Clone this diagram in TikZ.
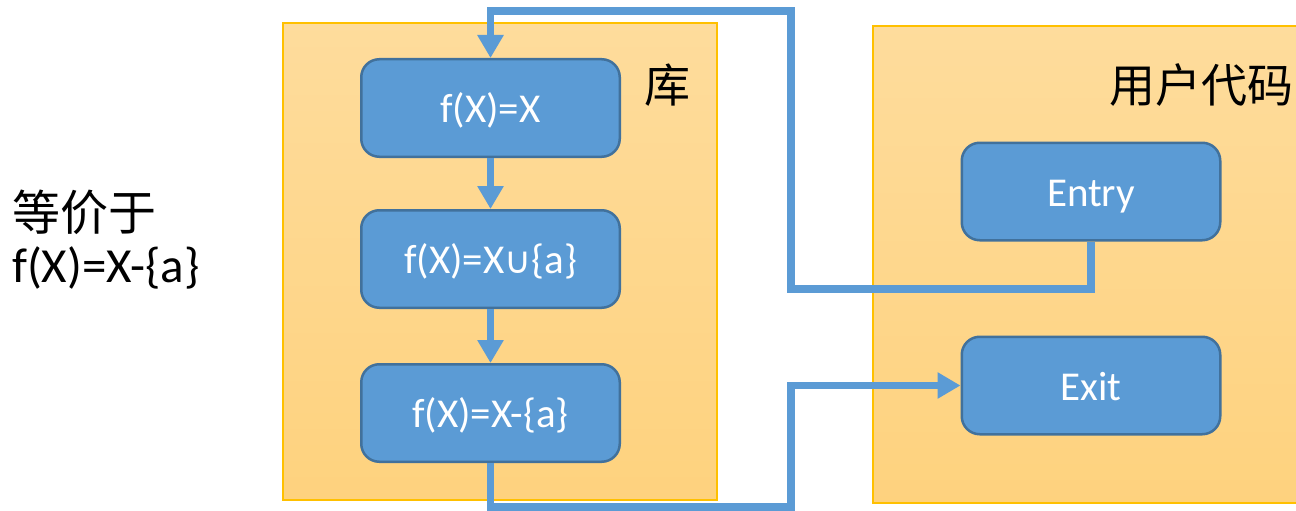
\documentclass[tikz,border=0pt]{standalone}
\usepackage{fontspec}
\setmainfont{Carlito}
\newfontfamily\cjk{Noto Sans CJK SC}
\newfontfamily\dvs{DejaVu Sans}
\usetikzlibrary{arrows.meta}
\definecolor{boxblue}{HTML}{5B9BD5}
\definecolor{boxedge}{HTML}{41719C}
\definecolor{contop}{HTML}{FEDC9C}
\definecolor{conbot}{HTML}{FED27E}
\definecolor{conedge}{HTML}{FFC000}
\begin{document}
\begin{tikzpicture}[x=1pt,y=-1pt,
  proc/.style={rectangle, rounded corners=18pt, fill=boxblue, draw=boxedge,
    line width=2.5pt, text=white, minimum width=258.5pt, minimum height=97.5pt,
    inner sep=0pt, text height=29pt, text depth=0pt, font=\fontsize{41}{48}\selectfont},
  container/.style={top color=contop, bottom color=conbot, draw=conedge, line width=1.3pt},
  conn/.style={draw=boxblue, line width=7.5pt, line join=miter},
  tip/.style={-{Triangle[width=25pt,length=23pt]}},
  bigcjk/.style={font=\cjk\fontsize{46}{52}\selectfont, inner sep=0pt},
  lefttext/.style={font=\fontsize{49}{56}\selectfont, inner sep=0pt, anchor=west}
]
\useasboundingbox (0,0) rectangle (1296,511);
\clip (0,0) rectangle (1296,511);

% containers
\path[container] (283,23) rectangle (717,500);
\path[container] (873,26) rectangle (1320,503);

% container labels
\node[bigcjk] (libl) at (667,85) {库};
\node[bigcjk, anchor=west] (usrl) at (1109,85) {用户代码};

% left text
\node[lefttext, font=\cjk\fontsize{48}{52}\selectfont] (eq1) at (12,212) {等价于};
\node[lefttext] (eq2) at (12,268) {f(X)=X-\{a\}};

% library boxes
\node[proc] (b1) at (490.5,108) {f(X)=X};
\node[proc] (b2) at (490.5,259) {f(X)=X{\dvs\fontsize{37}{40}\selectfont ∪}\{a\}};
\node[proc] (b3) at (490.5,413) {f(X)=X-\{a\}};

% user code boxes
\node[proc] (entry) at (1091,191.5) {Entry};
\node[proc] (exit) at (1091,385.5) {Exit};

% connector coordinates
\coordinate (t1) at (791,289);
\coordinate (t2) at (791,11);
\coordinate (u1) at (791,507);

% connectors
\draw[conn,tip] (b1.south) -- (b2.north);
\draw[conn,tip] (b2.south) -- (b3.north);
\draw[conn,tip] (entry.south) |- (t1) -- (t2) -| (b1.north);
\draw[conn,tip] (b3.south) |- (u1) |- (exit.west);
\end{tikzpicture}
\end{document}
